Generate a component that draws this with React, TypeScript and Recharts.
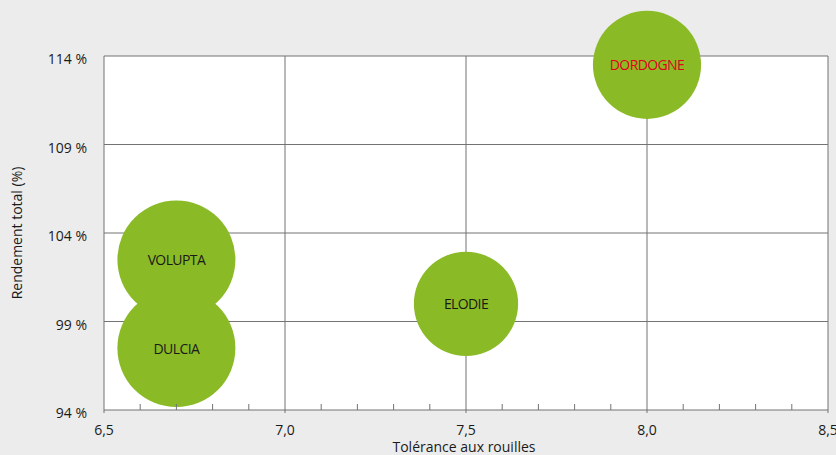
import { ScatterChart, Scatter, XAxis, YAxis, ZAxis, ReferenceLine } from 'recharts'

const varieties = ['DORDOGNE', 'VOLUPTA', 'DULCIA', 'ELODIE']
const tolerance = [8.0, 6.7, 6.7, 7.5]
const yieldPct = [113.5, 102.5, 97.5, 100]
const bubbleSize = [84, 100, 100, 78]
const labelColors = ['#e2001a', '#1a1a1a', '#1a1a1a', '#1a1a1a']

const xTicks = [6.5, 6.6, 6.7, 6.8, 6.9, 7.0, 7.1, 7.2, 7.3, 7.4, 7.5, 7.6, 7.7, 7.8, 7.9, 8.0, 8.1, 8.2, 8.3, 8.4, 8.5]
const xMajor = [7.0, 7.5, 8.0]
const yTicks = [94, 99, 104, 109, 114]
const yGrid = [99, 104, 109]

const data = varieties.map((name, i) => ({
  name,
  x: tolerance[i],
  y: yieldPct[i],
  z: bubbleSize[i],
  color: labelColors[i],
}))

const FONT = '"Open Sans", sans-serif'
const GRID = '#737373'
const GREEN = '#8aba25'

function Bubble(props: any) {
  const { cx, cy, width, payload } = props
  const r = width / 2
  return (
    <g>
      <circle cx={cx} cy={cy} r={r} fill={GREEN} />
      <text
        x={cx}
        y={cy}
        textAnchor="middle"
        dominantBaseline="central"
        fontFamily={FONT}
        fontSize={14}
        letterSpacing={-0.6}
        fill={payload.color}
      >
        {payload.name}
      </text>
    </g>
  )
}

function XTick(props: any) {
  const { x, y, payload } = props
  const v = payload.value
  const major = Math.abs(v * 2 - Math.round(v * 2)) < 1e-6
  // y here is below the axis by tickSize + tickMargin
  const axisY = y - 8
  if (!major) {
    return <line x1={x} x2={x} y1={axisY} y2={axisY - 6} stroke={GRID} />
  }
  return (
    <g>
      <line x1={x} x2={x} y1={axisY} y2={axisY + 3} stroke={GRID} />
      <text x={x} y={axisY + 25} textAnchor="middle" fontFamily={FONT} fontSize={14} fill="#1a1a1a">
        {v.toFixed(1).replace('.', ',')}
      </text>
    </g>
  )
}

function YTick(props: any) {
  const { x, y, payload } = props
  return (
    <text x={x} y={y + 8} textAnchor="end" fontFamily={FONT} fontSize={14} fill="#1a1a1a">
      {`${payload.value} %`}
    </text>
  )
}

export default function App() {
  return (
    <div style={{ position: 'fixed', left: 0, top: 0, width: 836, height: 455, background: '#ececec' }}>
      <ScatterChart width={836} height={455} margin={{ top: 56, right: 8, left: 0, bottom: 0 }}>
        <rect x={104} y={56} width={724} height={354} fill="#ffffff" />
        <XAxis
          type="number"
          dataKey="x"
          domain={[6.5, 8.5]}
          ticks={xTicks}
          interval={0}
          height={45}
          tick={<XTick />}
          tickLine={false}
          tickSize={6}
          tickMargin={2}
          axisLine={{ stroke: GRID }}
          label={(p: any) => (
            <text
              x={p.viewBox.x + p.viewBox.width / 2 - 2}
              y={p.viewBox.y + 42}
              textAnchor="middle"
              fontFamily={FONT}
              fontSize={14}
              fill="#1a1a1a"
            >
              Tolérance aux rouilles
            </text>
          )}
        />
        <YAxis
          type="number"
          dataKey="y"
          domain={[94, 114]}
          ticks={yTicks}
          width={104}
          tickLine={false}
          tickSize={0}
          tickMargin={17}
          axisLine={{ stroke: GRID }}
          tick={<YTick />}
          label={(p: any) => (
            <text
              x={p.viewBox.x + 22}
              y={p.viewBox.y + p.viewBox.height / 2}
              transform={`rotate(-90, ${p.viewBox.x + 22}, ${p.viewBox.y + p.viewBox.height / 2})`}
              textAnchor="middle"
              fontFamily={FONT}
              fontSize={14}
              fill="#1a1a1a"
            >
              Rendement total (%)
            </text>
          )}
        />
        <ZAxis type="number" dataKey="z" domain={[0, 100]} range={[0, Math.PI * 59 * 59]} />
        {xMajor.map((v) => (
          <ReferenceLine key={`x${v}`} x={v} stroke={GRID} />
        ))}
        {yGrid.map((v) => (
          <ReferenceLine key={`y${v}`} y={v} stroke={GRID} />
        ))}
        <ReferenceLine y={114} stroke={GRID} />
        <ReferenceLine x={8.5} stroke={GRID} />
        <Scatter data={data} shape={<Bubble />} isAnimationActive={false} />
      </ScatterChart>
    </div>
  )
}
